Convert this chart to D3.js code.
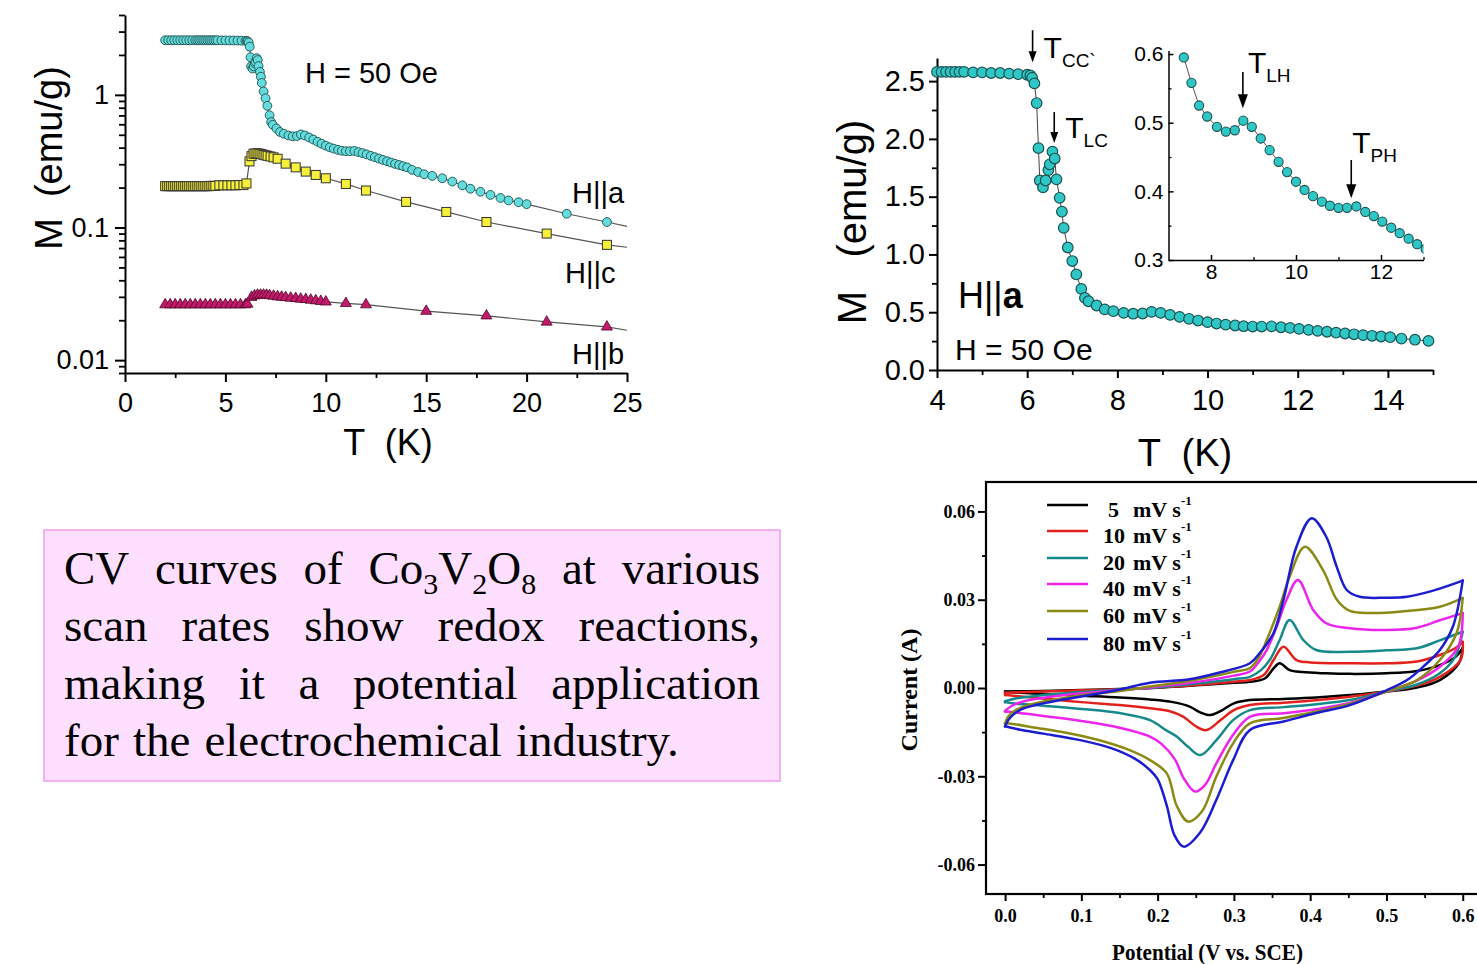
<!DOCTYPE html>
<html>
<head>
<meta charset="utf-8">
<script src="https://cdn.jsdelivr.net/npm/d3@7"></script>
<style>
  html, body { margin: 0; padding: 0; background: #fff; }
  svg { display: block; }
</style>
</head>
<body>
<svg id="fig" width="1477" height="964"></svg>
<script>
// ── 資料：左上 M(T)（log 軸），H||a / H||c / H||b ─────────────────
// H||a 低溫段（只在左上圖出現）
const hALowT = [2.0, 2.15, 2.3, 2.45, 2.6, 2.75, 2.9, 3.05, 3.2, 3.35, 3.5, 3.6, 3.7, 3.8, 3.9];
const hALowM = [2.58, 2.58, 2.58, 2.58, 2.58, 2.58, 2.58, 2.58, 2.58, 2.58, 2.58, 2.58, 2.58, 2.58, 2.58];

// H||a 4–15 K（右上主圖與插圖共用）
const hAT = [4.0, 4.1, 4.2, 4.3, 4.4, 4.5, 4.6, 4.8, 5.0, 5.2, 5.4, 5.6, 5.8, 6.0,
  6.07, 6.11, 6.16, 6.21, 6.25, 6.28, 6.35, 6.41, 6.47, 6.50, 6.56, 6.61, 6.65, 6.72, 6.77, 6.81,
  6.9, 7.0, 7.09, 7.2, 7.28, 7.36,
  7.54, 7.72, 7.91, 8.14, 8.35, 8.56, 8.76, 8.96, 9.17, 9.38, 9.59, 9.79, 10.0, 10.2, 10.4, 10.61,
  10.8, 11.0, 11.2, 11.42, 11.63, 11.83, 12.03, 12.24, 12.44, 12.65, 12.85, 13.05,
  13.25, 13.45, 13.65, 13.85, 14.05, 14.3, 14.6, 14.9];
const hAM = [2.58, 2.58, 2.58, 2.58, 2.58, 2.58, 2.58, 2.575, 2.575, 2.57, 2.57, 2.565, 2.56, 2.555,
  2.55, 2.53, 2.48, 2.31, 1.92, 1.64, 1.58, 1.64, 1.73, 1.78, 1.89, 1.83, 1.65, 1.49, 1.37, 1.23,
  1.06, 0.943, 0.827, 0.702, 0.624, 0.595,
  0.558, 0.525, 0.509, 0.494, 0.487, 0.489, 0.503, 0.494, 0.477, 0.460, 0.443, 0.428, 0.414, 0.402, 0.393, 0.385,
  0.379, 0.376, 0.376, 0.378, 0.370, 0.364, 0.356, 0.347, 0.339, 0.331, 0.323, 0.316,
  0.309, 0.302, 0.296, 0.290, 0.284, 0.272, 0.262, 0.252];

// H||a 高溫段（只在左上圖）
const hAHighT = [15.3, 15.8, 16.3, 16.8, 17.2, 17.7, 18.2, 18.7, 19.1, 19.6, 20.0, 22.0, 24.0];
const hAHighM = [0.245, 0.235, 0.222, 0.208, 0.196, 0.186, 0.176, 0.167, 0.160, 0.155, 0.150, 0.127, 0.110];

const hCT = [2.0, 2.1, 2.2, 2.3, 2.4, 2.5, 2.6, 2.7, 2.8, 2.9, 3.0, 3.1, 3.2, 3.3, 3.4, 3.5, 3.6, 3.7, 3.8, 3.9,
  4.0, 4.1, 4.2, 4.3, 4.4, 4.5, 4.7, 4.9, 5.1, 5.3, 5.5, 5.7, 5.9, 6.05,
  6.2, 6.3, 6.4, 6.5, 6.6, 6.7, 6.8, 6.9, 7.0, 7.1, 7.25, 7.4, 7.6, 8.0, 8.5, 9.0, 9.5, 10.0,
  11.0, 12.0, 14.0, 16.0, 18.0, 21.0, 24.0];
const hCM = [0.205, 0.205, 0.205, 0.205, 0.205, 0.205, 0.205, 0.205, 0.205, 0.205, 0.205, 0.205, 0.205, 0.205,
  0.205, 0.205, 0.205, 0.205, 0.205, 0.205, 0.205, 0.205, 0.205, 0.206, 0.206, 0.206,
  0.208, 0.208, 0.208, 0.208, 0.208, 0.209, 0.209, 0.215,
  0.315, 0.345, 0.360, 0.362, 0.362, 0.360, 0.357, 0.353, 0.350, 0.347, 0.343, 0.338, 0.330, 0.303, 0.284, 0.264, 0.249, 0.235,
  0.213, 0.190, 0.156, 0.131, 0.110, 0.090, 0.074];

const hBT = [2.0, 2.25, 2.5, 2.75, 3.0, 3.25, 3.5, 3.75, 4.0, 4.25, 4.5, 4.75, 5.0, 5.25, 5.5, 5.75, 6.0, 6.1,
  6.3, 6.45, 6.6, 6.75, 6.9, 7.05, 7.2, 7.4, 7.6, 7.8, 8.0, 8.25, 8.5, 8.75, 9.0, 9.25, 9.5, 9.75, 10.0,
  11.0, 12.0, 15.0, 18.0, 21.0, 24.0];
const hBM = [0.0262, 0.0262, 0.0262, 0.0262, 0.0262, 0.0262, 0.0262, 0.0262, 0.0262, 0.0262, 0.0262, 0.0262,
  0.0262, 0.0262, 0.0262, 0.0262, 0.0262, 0.0265,
  0.0298, 0.0306, 0.0310, 0.0310, 0.0310, 0.0309, 0.0307, 0.0304, 0.0301, 0.0299, 0.0297, 0.0294, 0.0292,
  0.0289, 0.0287, 0.0284, 0.0281, 0.0278, 0.0275,
  0.0268, 0.0262, 0.0234, 0.0216, 0.0194, 0.0178];

// 導引線延伸到 25 K 的終點值
const guideEndT = 25;
const guideEndM = { a: 0.102, c: 0.071, b: 0.0168 };

const panelALabels = ["H||a", "H||c", "H||b"];
const panelAXTicks = [0, 5, 10, 15, 20, 25];
const panelAXMinor = [2.5, 7.5, 12.5, 17.5, 22.5];
const panelAYTicks = [0.01, 0.1, 1];
const panelAYMinor = [0.008, 0.009, 0.02, 0.03, 0.04, 0.05, 0.06, 0.07, 0.08, 0.09,
  0.2, 0.3, 0.4, 0.5, 0.6, 0.7, 0.8, 0.9, 2, 3, 4];

// ── 右上圖刻度 ───────────────────────────────────────────────
const panelBXTicks = [4, 6, 8, 10, 12, 14];
const panelBXMinor = [5, 7, 9, 11, 13, 15];
const panelBYTicks = [0, 0.5, 1.0, 1.5, 2.0, 2.5];
const panelBYMinor = [0.25, 0.75, 1.25, 1.75, 2.25];
const insetXTicks = [8, 10, 12];
const insetXMinor = [9, 11, 13];
const insetYTicks = [0.3, 0.4, 0.5, 0.6];
const insetYMinor = [0.35, 0.45, 0.55];

// 轉變溫度標記：[下標, T, 箭頭尖端 M, 箭頭尾端 M]
const mainMarks = [["CC`", 6.12, 2.664, 2.94], ["LC", 6.6, 1.964, 2.232]];
const insetMarks = [["LH", 8.75, 0.521, 0.574], ["PH", 11.3, 0.390, 0.4456]];

// ── 右下 CV 曲線：[V, I]，正掃（上支）與反掃（下支）──────────────
const cv5Up = [[0, -0.0012], [0.05, -0.001], [0.1, -0.0007], [0.15, -0.0003], [0.19, 0.0], [0.25, 0.0009],
  [0.3, 0.0018], [0.321, 0.0021], [0.341, 0.0033], [0.352, 0.0067], [0.36, 0.0084], [0.373, 0.0061],
  [0.39, 0.0054], [0.42, 0.005], [0.452, 0.0048], [0.5, 0.005], [0.54, 0.0058], [0.57, 0.0078],
  [0.59, 0.0105], [0.6, 0.0136]];
const cv5Down = [[0.6, 0.0136], [0.595, 0.0085], [0.57, 0.0027], [0.54, 0.0002], [0.5, -0.0012],
  [0.452, -0.0024], [0.408, -0.0032], [0.365, -0.0037], [0.321, -0.0041], [0.3, -0.0052], [0.285, -0.0075],
  [0.269, -0.0092], [0.255, -0.0082], [0.242, -0.0063], [0.22, -0.0048], [0.19, -0.0039], [0.15, -0.0032],
  [0.1, -0.0026], [0.05, -0.002], [0.01, -0.0015], [0, -0.0014]];

const cv10Up = [[0, -0.0016], [0.05, -0.0012], [0.1, -0.0008], [0.15, -0.0004], [0.19, 0.0], [0.25, 0.001],
  [0.3, 0.0021], [0.321, 0.0027], [0.339, 0.0044], [0.352, 0.0095], [0.365, 0.014], [0.382, 0.0095],
  [0.4, 0.0087], [0.452, 0.0084], [0.5, 0.0084], [0.54, 0.009], [0.57, 0.0112], [0.59, 0.0135], [0.6, 0.0157]];
const cv10Down = [[0.6, 0.0157], [0.597, 0.0095], [0.57, 0.0038], [0.54, 0.0008], [0.5, -0.0012],
  [0.452, -0.003], [0.408, -0.0042], [0.365, -0.005], [0.321, -0.0058], [0.3, -0.0075], [0.283, -0.0108],
  [0.264, -0.0143], [0.25, -0.013], [0.234, -0.0098], [0.215, -0.0078], [0.19, -0.0069], [0.15, -0.0058],
  [0.1, -0.0048], [0.05, -0.0036], [0.01, -0.0026], [0, -0.0024]];

const cv20Up = [[0, -0.0045], [0.015, -0.0035], [0.05, -0.0024], [0.1, -0.0014], [0.15, -0.0005], [0.19, 0.0],
  [0.25, 0.0015], [0.3, 0.003], [0.321, 0.0038], [0.335, 0.006], [0.347, 0.0095], [0.36, 0.0163],
  [0.373, 0.0231], [0.391, 0.0163], [0.408, 0.0129], [0.452, 0.0123], [0.5, 0.0128], [0.54, 0.0135],
  [0.57, 0.0162], [0.6, 0.0191]];
const cv20Down = [[0.6, 0.0191], [0.59, 0.0106], [0.57, 0.005], [0.54, 0.0012], [0.5, -0.0012],
  [0.452, -0.0041], [0.408, -0.0055], [0.365, -0.0065], [0.321, -0.0075], [0.299, -0.0109], [0.277, -0.0177],
  [0.256, -0.0228], [0.24, -0.02], [0.225, -0.0165], [0.212, -0.0145], [0.19, -0.0109], [0.15, -0.0085],
  [0.1, -0.0071], [0.05, -0.006], [0.01, -0.0052], [0, -0.0048]];

const cv40Up = [[0, -0.0078], [0.008, -0.0062], [0.025, -0.0045], [0.06, -0.003], [0.1, -0.0018],
  [0.15, -0.0007], [0.19, 0.0002], [0.25, 0.002], [0.3, 0.0042], [0.321, 0.0056], [0.333, 0.009],
  [0.343, 0.0129], [0.356, 0.0208], [0.369, 0.03], [0.384, 0.0367], [0.404, 0.0265], [0.421, 0.022],
  [0.452, 0.0203], [0.5, 0.0197], [0.54, 0.0205], [0.57, 0.023], [0.6, 0.0255]];
const cv40Down = [[0.6, 0.0255], [0.594, 0.014], [0.57, 0.0072], [0.54, 0.0025], [0.5, -0.0012],
  [0.452, -0.0051], [0.408, -0.0072], [0.365, -0.0086], [0.321, -0.0098], [0.299, -0.0159], [0.277, -0.0256],
  [0.262, -0.033], [0.249, -0.0352], [0.235, -0.031], [0.222, -0.024], [0.205, -0.019], [0.19, -0.0165],
  [0.15, -0.0135], [0.1, -0.0112], [0.05, -0.0095], [0.01, -0.0082], [0, -0.008]];

const cv60Up = [[0, -0.012], [0.004, -0.0098], [0.012, -0.0078], [0.035, -0.0055], [0.07, -0.0037],
  [0.1, -0.0025], [0.15, -0.001], [0.19, 0.0005], [0.25, 0.0028], [0.3, 0.0055], [0.321, 0.0068],
  [0.333, 0.0105], [0.343, 0.0163], [0.36, 0.0276], [0.373, 0.0378], [0.393, 0.048], [0.417, 0.04],
  [0.435, 0.03], [0.452, 0.0262], [0.48, 0.0255], [0.52, 0.026], [0.57, 0.0276], [0.6, 0.0306]];
const cv60Down = [[0.6, 0.0306], [0.592, 0.0187], [0.57, 0.0095], [0.54, 0.0027], [0.5, -0.0012],
  [0.452, -0.0054], [0.408, -0.008], [0.365, -0.0102], [0.321, -0.012], [0.299, -0.0188], [0.277, -0.0301],
  [0.258, -0.042], [0.24, -0.0454], [0.225, -0.04], [0.212, -0.029], [0.19, -0.0245], [0.16, -0.0208],
  [0.12, -0.0175], [0.08, -0.0152], [0.04, -0.0135], [0.01, -0.0122], [0, -0.012]];

const cv80Up = [[0, -0.013], [0.004, -0.011], [0.01, -0.0092], [0.022, -0.0072], [0.04, -0.0058],
  [0.07, -0.0042], [0.111, -0.0024], [0.15, -0.0005], [0.19, 0.0018], [0.242, 0.003], [0.28, 0.0052],
  [0.321, 0.0084], [0.334, 0.0119], [0.352, 0.0187], [0.365, 0.03], [0.382, 0.048], [0.402, 0.0577],
  [0.421, 0.0514], [0.435, 0.041], [0.448, 0.0333], [0.465, 0.031], [0.5, 0.0307], [0.527, 0.031],
  [0.56, 0.033], [0.6, 0.0365]];
const cv80Down = [[0.6, 0.0365], [0.587, 0.0208], [0.57, 0.0129], [0.548, 0.0072], [0.527, 0.0027],
  [0.5, -0.0008], [0.452, -0.0058], [0.408, -0.0085], [0.365, -0.0114], [0.321, -0.0143], [0.299, -0.0245],
  [0.277, -0.038], [0.256, -0.049], [0.234, -0.0539], [0.222, -0.05], [0.212, -0.04], [0.2, -0.031],
  [0.19, -0.0279], [0.17, -0.024], [0.14, -0.0205], [0.1, -0.0178], [0.05, -0.0155], [0.02, -0.0142],
  [0, -0.013]];

const cvRates = ["5", "10", "20", "40", "60", "80"];
const cvUp = [cv5Up, cv10Up, cv20Up, cv40Up, cv60Up, cv80Up];
const cvDown = [cv5Down, cv10Down, cv20Down, cv40Down, cv60Down, cv80Down];
const cvXTicks = [0, 0.1, 0.2, 0.3, 0.4, 0.5, 0.6];
const cvXMinor = [0.05, 0.15, 0.25, 0.35, 0.45, 0.55];
const cvYTicks = [-0.06, -0.03, 0, 0.03, 0.06];
const cvYMinor = [-0.045, -0.015, 0.015, 0.045];

// ── 文字框內容（_數字 = 下標）────────────────────────────────
const boxLines = [
  ["CV", "curves", "of", "Co_3V_2O_8", "at", "various"],
  ["scan", "rates", "show", "redox", "reactions,"],
  ["making", "it", "a", "potential", "application"],
  ["for", "the", "electrochemical", "industry."]
];

// ── 樣式 ──────────────────────────────────────────────────────
const SANS  = "'Liberation Sans', Arial, Helvetica, sans-serif";
const SERIF = "'Liberation Serif', 'Times New Roman', serif";
const CYAN_A   = "#62dcdc";
const CYAN_B   = "#2fc6c6";
const YELLOW   = "#f6f03a";
const CRIMSON  = "#c4186a";
const GUIDE    = "#555";
const CV_COLORS = ["#000000", "#e3211c", "#168a8a", "#ec24ec", "#8a8a14", "#1c1cd0"];

const svg = d3.select("#fig");
const pts = (T, M) => T.map((t, i) => ({ t, m: M[i] }));

function styleAxis(g, size, family, weight, w) {
  g.attr("font-family", family).attr("font-size", size).attr("font-weight", weight || "normal");
  g.selectAll("text").attr("fill", "#000");
  g.selectAll("path,line").attr("stroke", "#000").attr("stroke-width", w || 2);
}
function minorTicks(g, axis, w) {
  g.call(axis.tickFormat("").tickSizeOuter(0));
  g.select(".domain").remove();
  g.selectAll("line").attr("stroke", "#000").attr("stroke-width", w || 1.8);
}
function arrowDown(g, x, y0, y1, hw, hl) {
  g.append("line").attr("x1", x).attr("x2", x).attr("y1", y0).attr("y2", y1 - hl + 1)
    .attr("stroke", "#000").attr("stroke-width", 1.6);
  g.append("path").attr("d", `M${x - hw},${y1 - hl}L${x + hw},${y1 - hl}L${x},${y1}Z`).attr("fill", "#000");
}
function subLabel(g, x, y, main, sub, size, subSize) {
  const t = g.append("text").attr("x", x).attr("y", y)
    .attr("font-family", SANS).attr("font-size", size).attr("fill", "#000");
  t.append("tspan").text(main);
  t.append("tspan").attr("dy", size * 0.3).attr("font-size", subSize).text(sub);
}

// ══ 左上：log M vs T ═══════════════════════════════════════════
(function panelA() {
  const x = d3.scaleLinear().domain([0, 25]).range([125, 627]);
  const y = d3.scaleLog().domain([0.008, 4]).range([373, 15]);
  const g = svg.append("g");

  g.append("g").attr("transform", "translate(0,373)")
    .call(d3.axisBottom(x).tickValues(panelAXTicks).tickSize(9).tickPadding(11).tickSizeOuter(0))
    .call(a => styleAxis(a, 27, SANS));
  g.append("g").attr("transform", "translate(0,373)")
    .call(a => minorTicks(a, d3.axisBottom(x).tickValues(panelAXMinor).tickSize(5)));
  g.append("g").attr("transform", "translate(125,0)")
    .call(d3.axisLeft(y).tickValues(panelAYTicks).tickFormat(d => String(d)).tickSize(10).tickPadding(6).tickSizeOuter(0))
    .call(a => styleAxis(a, 27, SANS));
  g.append("g").attr("transform", "translate(125,0)")
    .call(a => minorTicks(a, d3.axisLeft(y).tickValues(panelAYMinor).tickSize(6)));

  const line = d3.line().x(d => x(d.t)).y(d => y(d.m));
  const aPts = pts(hALowT, hALowM).concat(pts(hAT, hAM), pts(hAHighT, hAHighM));
  const cPts = pts(hCT, hCM);
  const bPts = pts(hBT, hBM);
  [[aPts, guideEndM.a], [cPts, guideEndM.c], [bPts, guideEndM.b]].forEach(([p, end]) => {
    g.append("path").attr("d", line(p.concat([{ t: guideEndT, m: end }])))
      .attr("fill", "none").attr("stroke", GUIDE).attr("stroke-width", 1.2);
  });

  g.append("g").selectAll("path").data(bPts).join("path")
    .attr("transform", d => `translate(${x(d.t)},${y(d.m)})`)
    .attr("d", d3.symbol(d3.symbolTriangle, 52)())
    .attr("fill", CRIMSON).attr("stroke", "#4a0a2a").attr("stroke-width", 0.8);
  g.append("g").selectAll("rect").data(cPts).join("rect")
    .attr("x", d => x(d.t) - 4.5).attr("y", d => y(d.m) - 4.5).attr("width", 9).attr("height", 9)
    .attr("fill", YELLOW).attr("stroke", "#333").attr("stroke-width", 1);
  g.append("g").selectAll("circle").data(aPts).join("circle")
    .attr("cx", d => x(d.t)).attr("cy", d => y(d.m)).attr("r", 4.4)
    .attr("fill", CYAN_A).attr("stroke", "#2a5d5d").attr("stroke-width", 1);

  g.append("text").attr("x", 305).attr("y", 83).attr("font-family", SANS).attr("font-size", 29)
    .attr("fill", "#000").text("H = 50 Oe");
  [[572, 203], [565, 283], [572, 364]].forEach(([lx, ly], i) => {
    g.append("text").attr("x", lx).attr("y", ly).attr("font-family", SANS).attr("font-size", 29)
      .attr("fill", "#000").text(panelALabels[i]);
  });
  g.append("text").attr("transform", "translate(62,158) rotate(-90)").attr("text-anchor", "middle")
    .attr("font-family", SANS).attr("font-size", 38).attr("fill", "#000")
    .attr("xml:space", "preserve").text("M  (emu/g)");
  g.append("text").attr("x", 388).attr("y", 455).attr("text-anchor", "middle")
    .attr("font-family", SANS).attr("font-size", 36).attr("fill", "#000")
    .attr("xml:space", "preserve").text("T  (K)");
})();

// ══ 右上：線性 M vs T，含插圖 ═══════════════════════════════════
(function panelB() {
  const x = d3.scaleLinear().domain([4, 15]).range([937, 1433]);
  const y = d3.scaleLinear().domain([0, 2.7]).range([370, 58]);
  const g = svg.append("g");
  const data = pts(hAT, hAM);

  g.append("g").attr("transform", "translate(0,370)")
    .call(d3.axisBottom(x).tickValues(panelBXTicks).tickSize(8).tickPadding(11).tickSizeOuter(0))
    .call(a => styleAxis(a, 29, SANS));
  g.append("g").attr("transform", "translate(0,370)")
    .call(a => minorTicks(a, d3.axisBottom(x).tickValues(panelBXMinor).tickSize(5)));
  g.append("g").attr("transform", "translate(937,0)")
    .call(d3.axisLeft(y).tickValues(panelBYTicks).tickFormat(d3.format(".1f")).tickSize(8).tickPadding(4).tickSizeOuter(0))
    .call(a => styleAxis(a, 29, SANS));
  g.append("g").attr("transform", "translate(937,0)")
    .call(a => minorTicks(a, d3.axisLeft(y).tickValues(panelBYMinor).tickSize(5)));

  const line = d3.line().x(d => x(d.t)).y(d => y(d.m));
  g.append("path").attr("d", line(data)).attr("fill", "none").attr("stroke", "#444").attr("stroke-width", 1);
  g.append("g").selectAll("circle").data(data).join("circle")
    .attr("cx", d => x(d.t)).attr("cy", d => y(d.m)).attr("r", 5.3)
    .attr("fill", CYAN_B).attr("stroke", "#1c5252").attr("stroke-width", 1.2);

  mainMarks.forEach(([sub, t, tip, top], i) => {
    arrowDown(g, x(t), y(top), y(tip), 4, 11);
    subLabel(g, x(t) + 11, y(top) + (i === 0 ? 28 : 26), "T", sub, 30, 19);
  });

  const t1 = g.append("text").attr("x", 958).attr("y", 308).attr("font-family", SANS)
    .attr("font-size", 36).attr("fill", "#000");
  t1.append("tspan").text("H||");
  t1.append("tspan").attr("font-weight", "bold").text("a");
  g.append("text").attr("x", 955).attr("y", 360).attr("font-family", SANS).attr("font-size", 30)
    .attr("fill", "#000").text("H = 50 Oe");
  g.append("text").attr("transform", "translate(866,222) rotate(-90)").attr("text-anchor", "middle")
    .attr("font-family", SANS).attr("font-size", 40).attr("fill", "#000")
    .attr("xml:space", "preserve").text("M   (emu/g)");
  g.append("text").attr("x", 1185).attr("y", 466).attr("text-anchor", "middle")
    .attr("font-family", SANS).attr("font-size", 38).attr("fill", "#000")
    .attr("xml:space", "preserve").text("T  (K)");

  // ── 插圖 ──
  const xi = d3.scaleLinear().domain([7, 13]).range([1168.5, 1423.5]);
  const yi = d3.scaleLinear().domain([0.3, 0.605]).range([260, 50.6]);
  const gi = svg.append("g");
  gi.append("g").attr("transform", "translate(0,260)")
    .call(d3.axisBottom(xi).tickValues(insetXTicks).tickFormat(d3.format("d")).tickSize(-5).tickPadding(4).tickSizeOuter(0))
    .call(a => styleAxis(a, 21, SANS, "normal", 1.5));
  gi.append("g").attr("transform", "translate(0,260)")
    .call(a => minorTicks(a, d3.axisBottom(xi).tickValues(insetXMinor).tickSize(-3), 1.3));
  gi.append("g").attr("transform", "translate(1168.5,0)")
    .call(d3.axisLeft(yi).tickValues(insetYTicks).tickFormat(d3.format(".1f")).tickSize(-5).tickPadding(5).tickSizeOuter(0))
    .call(a => styleAxis(a, 21, SANS, "normal", 1.5));
  gi.append("g").attr("transform", "translate(1168.5,0)")
    .call(a => minorTicks(a, d3.axisLeft(yi).tickValues(insetYMinor).tickSize(-3), 1.3));

  svg.append("clipPath").attr("id", "insetClip").append("rect")
    .attr("x", 1168.5).attr("y", 40).attr("width", 255).attr("height", 222);
  const inData = data.filter(d => d.t >= 7.33 && d.t <= 13.1);
  const li = d3.line().x(d => xi(d.t)).y(d => yi(d.m));
  const gc = gi.append("g").attr("clip-path", "url(#insetClip)");
  gc.append("path").attr("d", li(inData)).attr("fill", "none").attr("stroke", "#555").attr("stroke-width", 1);
  gc.selectAll("circle").data(inData).join("circle")
    .attr("cx", d => xi(d.t)).attr("cy", d => yi(d.m)).attr("r", 4.6)
    .attr("fill", CYAN_B).attr("stroke", "#1c5252").attr("stroke-width", 1.1);

  insetMarks.forEach(([sub, t, tip, top], i) => {
    arrowDown(gi, xi(t), yi(top), yi(tip), 5, 14);
    if (i === 0) subLabel(gi, xi(t) + 5, yi(top) + 1, "T", sub, 30, 19);
    else subLabel(gi, xi(t) + 1, yi(top) - 7, "T", sub, 30, 19);
  });
})();

// ══ 右下：CV 曲線 ════════════════════════════════════════════
(function panelC() {
  const x = d3.scaleLinear().domain([-0.025, 0.62]).range([986, 1478]);
  const y = d3.scaleLinear().domain([-0.07, 0.07]).range([894, 482]);
  const g = svg.append("g");
  const fmt = (n) => d => (Math.abs(d) < 1e-9 ? 0 : d).toFixed(n);

  g.append("g").attr("transform", "translate(0,894)")
    .call(d3.axisBottom(x).tickValues(cvXTicks).tickFormat(fmt(1)).tickSize(7).tickPadding(8).tickSizeOuter(0))
    .call(a => { styleAxis(a, 18, SERIF, "bold"); a.select(".domain").remove(); });
  g.append("g").attr("transform", "translate(0,894)")
    .call(a => minorTicks(a, d3.axisBottom(x).tickValues(cvXMinor).tickSize(4)));
  g.append("g").attr("transform", "translate(986,0)")
    .call(d3.axisLeft(y).tickValues(cvYTicks).tickFormat(fmt(2)).tickSize(8).tickPadding(3).tickSizeOuter(0))
    .call(a => { styleAxis(a, 18, SERIF, "bold"); a.select(".domain").remove(); });
  g.append("g").attr("transform", "translate(986,0)")
    .call(a => minorTicks(a, d3.axisLeft(y).tickValues(cvYMinor).tickSize(4)));

  g.append("rect").attr("x", 986).attr("y", 482).attr("width", 500).attr("height", 412)
    .attr("fill", "none").attr("stroke", "#000").attr("stroke-width", 2.2);

  const branch = d3.line().x(d => x(d[0])).y(d => y(d[1])).curve(d3.curveCatmullRom.alpha(0.5));
  const straight = d3.line().x(d => x(d[0])).y(d => y(d[1]));
  cvRates.forEach((r, i) => {
    const up = cvUp[i], dn = cvDown[i];
    const c = CV_COLORS[i];
    [branch(up), branch(dn), straight([dn[dn.length - 1], up[0]])].forEach(d => {
      g.append("path").attr("d", d).attr("fill", "none").attr("stroke", c)
        .attr("stroke-width", 2.5).attr("stroke-linejoin", "round").attr("stroke-linecap", "round");
    });
  });

  // 圖例
  const legY = [505, 531, 558, 584, 611, 639];
  cvRates.forEach((r, i) => {
    const ly = legY[i];
    g.append("line").attr("x1", 1047).attr("x2", 1088).attr("y1", ly).attr("y2", ly)
      .attr("stroke", CV_COLORS[i]).attr("stroke-width", 2.6);
    const base = { "font-family": SERIF, "font-weight": "bold", fill: "#000" };
    const num = g.append("text").attr("x", r.length === 1 ? 1108 : 1103).attr("y", ly + 12)
      .attr("font-size", 22).text(r);
    const unit = g.append("text").attr("x", 1133).attr("y", ly + 12).attr("font-size", 22);
    unit.append("tspan").text("mV s");
    unit.append("tspan").attr("dy", -12).attr("font-size", 13).text("-1");
    [num, unit].forEach(t => Object.entries(base).forEach(([k, v]) => t.attr(k, v)));
  });

  g.append("text").attr("transform", "translate(917,690) rotate(-90)").attr("text-anchor", "middle")
    .attr("font-family", SERIF).attr("font-weight", "bold").attr("font-size", 24).attr("fill", "#000")
    .text("Current (A)");
  g.append("text").attr("x", 1112).attr("y", 960)
    .attr("font-family", SERIF).attr("font-weight", "bold").attr("font-size", 23).attr("fill", "#000")
    .attr("textLength", 191).attr("lengthAdjust", "spacingAndGlyphs")
    .text("Potential (V vs. SCE)");
})();

// ══ 左下：說明文字框（左右對齊）══════════════════════════════════
(function textBox() {
  const g = svg.append("g");
  g.append("rect").attr("x", 44).attr("y", 530).attr("width", 736).attr("height", 251)
    .attr("fill", "#ffdfff").attr("stroke", "#f2a2f2").attr("stroke-width", 1.6);
  const L = 64, R = 760, y0 = 584, lh = 57.3, fs = 47;
  boxLines.forEach((words, li) => {
    const y = y0 + li * lh;
    const nodes = words.map(w => {
      const t = g.append("text").attr("y", y).attr("font-family", SERIF)
        .attr("font-size", fs).attr("fill", "#000");
      let down = false;
      w.split(/(_\d)/).filter(s => s).forEach(seg => {
        if (seg[0] === "_") {
          t.append("tspan").attr("dy", 10).attr("font-size", 30).text(seg.slice(1));
          down = true;
        } else {
          t.append("tspan").attr("dy", down ? -10 : 0).text(seg);
          down = false;
        }
      });
      return t;
    });
    const widths = nodes.map(n => n.node().getComputedTextLength());
    const total = d3.sum(widths);
    const justify = li < boxLines.length - 1;
    const gap = justify ? (R - L - total) / (words.length - 1) : fs * 0.3;
    let cx = L;
    nodes.forEach((n, i) => { n.attr("x", cx); cx += widths[i] + gap; });
  });
})();
</script>
</body>
</html>
